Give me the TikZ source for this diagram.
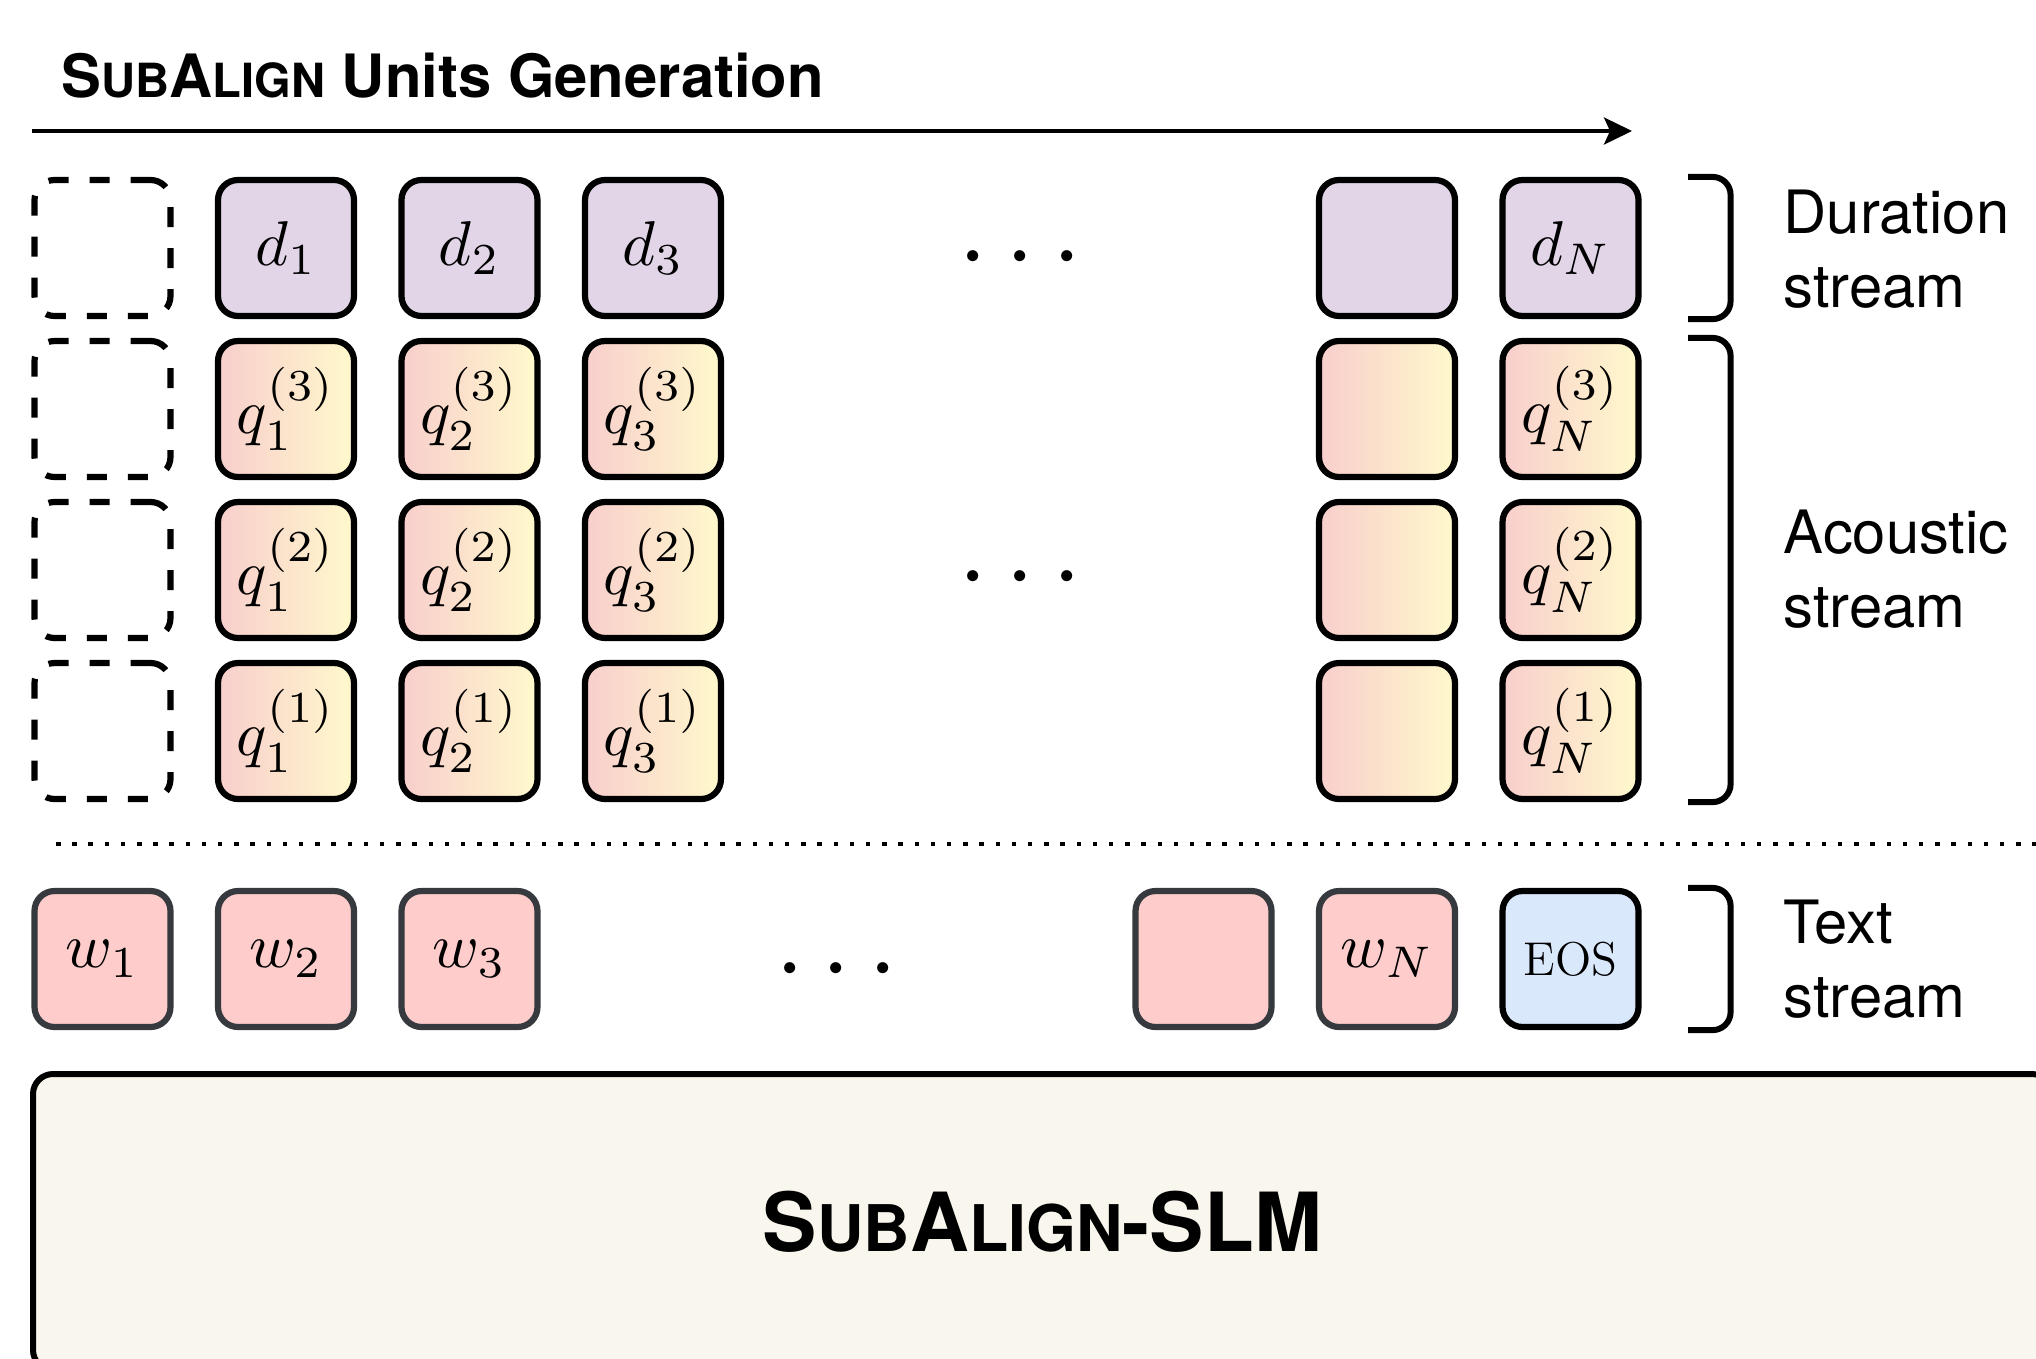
\RequirePackage{fix-cm}
\documentclass[tikz,border=0pt]{standalone}
\usepackage[no-math]{fontspec}
\newfontfamily\heros{TeX Gyre Heros}
\usetikzlibrary{arrows.meta}

\definecolor{durfill}{HTML}{E1D5E7}
\definecolor{acleft}{HTML}{F8CECC}
\definecolor{acright}{HTML}{FFF9CC}
\definecolor{txtfill}{HTML}{FFCCCC}
\definecolor{txtline}{HTML}{36393D}
\definecolor{eosfill}{HTML}{DAE8FC}
\definecolor{slmfill}{HTML}{F9F7ED}

% math set at 10pt and enlarged, as in a scaled figure
\newcommand\mth[1]{\scalebox{1.8}{$#1$}}
% bold sans small capitals for the model name
\newcommand\subalignname[1]{S{\fontsize{#1}{#1}\selectfont UB}A{\fontsize{#1}{#1}\selectfont LIGN}}

\tikzset{
  unit/.style={rectangle, rounded corners=2mm, minimum width=13.6mm,
    minimum height=13.6mm, line width=0.62mm, inner sep=0pt,
    font=\fontsize{10pt}{12pt}\selectfont},
  durbox/.style={unit, draw=black, fill=durfill},
  acbox/.style={unit, draw=black, left color=acleft, right color=acright},
  txtbox/.style={unit, draw=txtline, fill=txtfill},
  eosbox/.style={unit, draw=black, fill=eosfill, font=\fontsize{13.5pt}{16pt}\selectfont},
  padbox/.style={unit, draw=black, dash pattern=on 2mm off 2.1mm},
  bracket/.style={line width=0.6mm, rounded corners=1.8mm},
  streamlabel/.style={anchor=west, align=left, inner sep=0pt,
    font=\heros\fontsize{17pt}{21pt}\selectfont},
  ellip/.style={inner sep=0pt, font=\fontsize{30pt}{30pt}\selectfont},
}
\newcommand\hdots{$\mathord{\cdot}\mkern3mu\mathord{\cdot}\mkern3mu\mathord{\cdot}$}

\begin{document}
\begin{tikzpicture}[x=0.1mm, y=-0.1mm]
\useasboundingbox (0,0) rectangle (2036,1358);
\clip (0,0) rectangle (2036,1358);

% heading and direction of generation
\node[anchor=base west, inner sep=0pt,
      font=\heros\bfseries\fontsize{17pt}{20pt}\selectfont] (title) at (61,97)
      {\subalignname{13.4pt} Units Generation};
\coordinate (genstart) at (32,131);
\coordinate (genend) at (1632,131);
\draw[line width=0.4mm, -{Stealth[length=2.8mm, width=2.7mm, inset=0.6mm]}]
  (genstart) -- (genend);

% empty padding slots
\foreach \r/\y in {d/248, c/409, b/570, a/731}
  \node[padbox] (pad\r) at (102.5,\y) {};

% duration and acoustic units
\foreach \c/\x in {1/286, 2/469.5, 3/653} {
  \node[durbox] (d\c) at (\x,248) {\mth{d_{\c}}};
  \node[acbox] (qc\c) at (\x,409) {\mth{q_{\c}^{(3)}}};
  \node[acbox] (qb\c) at (\x,570) {\mth{q_{\c}^{(2)}}};
  \node[acbox] (qa\c) at (\x,731) {\mth{q_{\c}^{(1)}}};
}
\node[durbox] (dM) at (1387,248) {};
\node[acbox] (qcM) at (1387,409) {};
\node[acbox] (qbM) at (1387,570) {};
\node[acbox] (qaM) at (1387,731) {};
\node[durbox] (dN) at (1570.5,248) {\mth{d_N}};
\node[acbox] (qcN) at (1570.5,409) {\mth{q_N^{(3)}}};
\node[acbox] (qbN) at (1570.5,570) {\mth{q_N^{(2)}}};
\node[acbox] (qaN) at (1570.5,731) {\mth{q_N^{(1)}}};

\node[ellip] (ddots) at (1020,259) {\hdots};
\node[ellip] (qdots) at (1020,579) {\hdots};

% separator between speech and text
\coordinate (sepL) at (56,844);
\coordinate (sepR) at (2036,844);
\draw[line width=0.45mm, dash pattern=on 0.45mm off 1.17mm] (sepL) -- (sepR);

% text units
\node[txtbox] (w1) at (102.5,959) {\mth{w_1}};
\node[txtbox] (w2) at (286,959) {\mth{w_2}};
\node[txtbox] (w3) at (469.5,959) {\mth{w_3}};
\node[ellip] (wdots) at (836.5,971) {\hdots};
\node[txtbox] (wM) at (1203.5,959) {};
\node[txtbox] (wN) at (1387,959) {\mth{w_N}};
\node[eosbox] (eos) at (1570.5,959) {EOS};

% stream brackets
\draw[bracket] ([xshift=4.65mm]dN.north east) -| ([xshift=8.9mm]dN.south east)
  -- ([xshift=4.65mm]dN.south east);
\draw[bracket] ([xshift=4.65mm]qcN.north east) -| ([xshift=8.9mm]qaN.south east)
  -- ([xshift=4.65mm]qaN.south east);
\draw[bracket] ([xshift=4.65mm]eos.north east) -| ([xshift=8.9mm]eos.south east)
  -- ([xshift=4.65mm]eos.south east);

\node[streamlabel] (durlabel) at (1783,249) {Duration\\stream};
\node[streamlabel] (aclabel) at (1783,569) {Acoustic\\stream};
\node[streamlabel] (txtlabel) at (1783,959) {Text\\stream};

% language model block
\node[draw=black, line width=0.6mm, fill=slmfill, rounded corners=2mm,
      minimum width=201.9mm, minimum height=29.6mm, inner sep=0pt,
      font=\heros\bfseries\fontsize{23.2pt}{28pt}\selectfont] (slm) at (1042.5,1222)
      {\subalignname{18.3pt}-SLM};
\end{tikzpicture}
\end{document}
